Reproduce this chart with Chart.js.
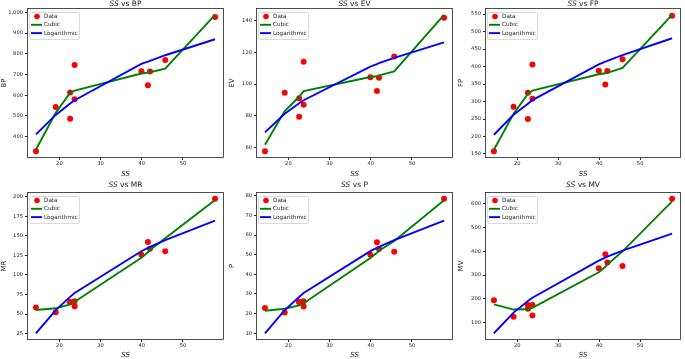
<!DOCTYPE html>
<html>
<head>
<meta charset="utf-8">
<script src="https://cdn.jsdelivr.net/npm/chart.js@4.4.0/dist/chart.umd.min.js"></script>
<style>
  body { margin: 0; background: #fff; }
  #wrap { position: relative; width: 685px; height: 359px; overflow: hidden; background: #fff; }
  #wrap canvas { position: absolute; }
</style>
</head>
<body>
<div id="wrap"></div>
<script>
// SS values of the 11 observations, and the sorted x where the fits are drawn
const ss = [14.3, 19.1, 22.6, 22.6, 23.7, 23.7, 39.9, 41.5, 42.0, 45.7, 57.8];
const fitX = [14.3, 19.1, 22.6, 23.7, 39.9, 41.5, 42.0, 45.7, 57.8];

const bp = [330, 543, 613, 486, 746, 581, 716, 648, 714, 770, 977];
const bpCubic = [338, 515, 612, 622, 705, 709, 711, 728, 988];
const bpLog = [411, 505, 560, 576, 751, 762, 766, 793, 870];

const ev = [57.6, 94.6, 91.0, 79.3, 114.1, 86.9, 104.3, 95.6, 104.0, 117.5, 141.9];
const evCubic = [61.7, 83, 92, 95.6, 104.5, 105, 105.5, 108, 143.8];
const evLog = [69.5, 81.3, 87.9, 89.8, 111.0, 112.7, 113.2, 116.6, 126.4];

const fp = [158, 285, 325, 250, 406, 308, 388, 349, 387, 421, 545];
const fpCubic = [162, 265, 322, 331, 378, 381, 382, 396, 548];
const fpLog = [205, 262, 294, 304, 406, 414, 416, 433, 481];

const mr = [58.2, 52.2, 65.4, 65.0, 66.3, 59.9, 125.9, 142.1, 133.6, 130.2, 197.4];
const mrCubic = [55.2, 57.3, 62.4, 65.8, 122, 129, 132, 147, 195.7];
const mrLog = [25.4, 55.1, 71.9, 76.8, 130.3, 134.6, 135.9, 144.5, 169.3];

const p = [22.9, 20.6, 26.1, 25.8, 26.3, 23.6, 50.0, 56.3, 52.9, 51.5, 78.5];
const pCubic = [21.5, 22.5, 24.2, 25.3, 48.3, 51, 52, 57, 77.7];
const pLog = [10.0, 21.8, 28.5, 30.5, 51.8, 53.5, 54.0, 57.4, 67.3];

const mv = [194, 125, 174, 158, 174, 130, 329, 388, 353, 339, 622];
const mvCubic = [177, 155, 156, 162, 312, 335, 345, 400, 611];
const mvLog = [55, 142, 191, 205, 361, 374, 378, 403, 475];

const xTicks = [20, 30, 40, 50];
const bpTicks = [400, 500, 600, 700, 800, 900, 1000];
const evTicks = [60, 80, 100, 120, 140];
const fpTicks = [150, 200, 250, 300, 350, 400, 450, 500, 550];
const mrTicks = [25, 50, 75, 100, 125, 150, 175, 200];
const pTicks = [10, 20, 30, 40, 50, 60, 70, 80];
const mvTicks = [100, 200, 300, 400, 500, 600];

const panels = [
    { name: "BP", data: bp, cubic: bpCubic, log: bpLog, ticks: bpTicks, col: 0, row: 0 },
    { name: "EV", data: ev, cubic: evCubic, log: evLog, ticks: evTicks, col: 1, row: 0 },
    { name: "FP", data: fp, cubic: fpCubic, log: fpLog, ticks: fpTicks, col: 2, row: 0 },
    { name: "MR", data: mr, cubic: mrCubic, log: mrLog, ticks: mrTicks, col: 0, row: 1 },
    { name: "P", data: p, cubic: pCubic, log: pLog, ticks: pTicks, col: 1, row: 1 },
    { name: "MV", data: mv, cubic: mvCubic, log: mvLog, ticks: mvTicks, col: 2, row: 1 }
];

const cols = [
    { x: 0, w: 228, left: 27, right: 226 },
    { x: 228, w: 229, left: 28, right: 227 },
    { x: 457, w: 228, left: 28, right: 227 }
];
const rows = [
    { y: 0, h: 178, top: 8, bottom: 158, titleY: 4 },
    { y: 178, h: 181, top: 14, bottom: 162, titleY: 7 }
];

const FONT = '"DejaVu Sans", sans-serif';

// matplotlib style autoscale: data limits plus 5% each side
function padRange(values) {
    const lo = Math.min(...values);
    const hi = Math.max(...values);
    const m = (hi - lo) * 0.05;
    return [lo - m, hi + m];
}

// frame on all four sides, title with italic SS, legend in the upper left
const decorPlugin = {
    id: "decor",
    afterDatasetsDraw(chart, args, opts) {
        const ctx = chart.ctx;
        const a = chart.chartArea;
        ctx.save();
        ctx.strokeStyle = "#222";
        ctx.lineWidth = 0.8;
        ctx.strokeRect(Math.round(a.left) + 0.5, Math.round(a.top) + 0.5,
            Math.round(a.right - a.left) - 1, Math.round(a.bottom - a.top) - 1);

        // legend
        const lx = a.left + 2;
        const ly = a.top + 4;
        const w = 50, h = 27;
        ctx.fillStyle = "rgba(255,255,255,0.8)";
        ctx.strokeStyle = "#d0d0d0";
        ctx.lineWidth = 0.8;
        ctx.beginPath();
        ctx.roundRect(lx + 0.5, ly + 0.5, w, h, 1.5);
        ctx.fill();
        ctx.stroke();

        ctx.font = "5.7px " + FONT;
        ctx.textBaseline = "middle";
        ctx.textAlign = "left";
        chart.data.datasets.forEach((ds, i) => {
            const cy = ly + 4.5 + i * 8.3;
            if (ds.showLine) {
                ctx.strokeStyle = ds.borderColor;
                ctx.lineWidth = 1.9;
                ctx.beginPath();
                ctx.moveTo(lx + 2, cy);
                ctx.lineTo(lx + 13, cy);
                ctx.stroke();
            } else {
                ctx.fillStyle = ds.backgroundColor;
                ctx.beginPath();
                ctx.arc(lx + 8, cy, 2.8, 0, Math.PI * 2);
                ctx.fill();
            }
            ctx.fillStyle = "#222";
            ctx.fillText(ds.label, lx + 15, cy);
        });

        // title
        const t1 = "SS";
        const t2 = " vs " + opts.name;
        ctx.fillStyle = "#222";
        ctx.font = "italic 7.5px " + FONT;
        const w1 = ctx.measureText(t1).width;
        ctx.font = "7.5px " + FONT;
        const w2 = ctx.measureText(t2).width;
        const tx = (a.left + a.right) / 2 - (w1 + w2) / 2;
        ctx.font = "italic 7.5px " + FONT;
        ctx.fillText(t1, tx, opts.titleY);
        ctx.font = "7.5px " + FONT;
        ctx.fillText(t2, tx + w1, opts.titleY);
        ctx.restore();
    }
};

const wrap = document.getElementById("wrap");
const xRange = padRange(ss);

panels.forEach(panel => {
    const c = cols[panel.col];
    const r = rows[panel.row];
    const canvas = document.createElement("canvas");
    canvas.width = c.w;
    canvas.height = r.h;
    canvas.style.left = c.x + "px";
    canvas.style.top = r.y + "px";
    canvas.style.width = c.w + "px";
    canvas.style.height = r.h + "px";
    wrap.appendChild(canvas);

    const yRange = padRange(panel.data.concat(panel.cubic, panel.log));

    new Chart(canvas, {
        type: "scatter",
        data: {
            datasets: [
                {
                    label: "Data",
                    data: ss.map((x, i) => ({ x: x, y: panel.data[i] })),
                    backgroundColor: "#ff0000",
                    borderWidth: 0,
                    pointRadius: 3,
                    order: 2
                },
                {
                    label: "Cubic",
                    data: fitX.map((x, i) => ({ x: x, y: panel.cubic[i] })),
                    showLine: true,
                    borderColor: "#008000",
                    borderWidth: 1.9,
                    pointRadius: 0,
                    order: 1
                },
                {
                    label: "Logarithmic",
                    data: fitX.map((x, i) => ({ x: x, y: panel.log[i] })),
                    showLine: true,
                    borderColor: "#0000ff",
                    borderWidth: 1.9,
                    pointRadius: 0,
                    order: 0
                }
            ]
        },
        options: {
            responsive: false,
            animation: false,
            devicePixelRatio: 1,
            layout: {
                padding: { top: r.top, right: c.w - c.right, left: 0, bottom: 0 }
            },
            plugins: {
                legend: { display: false },
                tooltip: { enabled: false },
                decor: { name: panel.name, titleY: r.titleY }
            },
            scales: {
                x: {
                    type: "linear",
                    min: xRange[0],
                    max: xRange[1],
                    afterBuildTicks: scale => { scale.ticks = xTicks.map(v => ({ value: v })); },
                    afterFit: scale => { scale.height = r.h - r.bottom; },
                    border: { display: false },
                    grid: { display: true, drawOnChartArea: false, drawTicks: true, tickLength: 2, color: "#222" },
                    ticks: { color: "#222", padding: 1, maxRotation: 0, font: { family: FONT, size: 5.2 } },
                    title: {
                        display: true,
                        text: "SS",
                        color: "#222",
                        padding: 0,
                        font: { family: FONT, size: 7, style: "italic" }
                    }
                },
                y: {
                    type: "linear",
                    min: yRange[0],
                    max: yRange[1],
                    afterBuildTicks: scale => { scale.ticks = panel.ticks.map(v => ({ value: v })); },
                    afterFit: scale => { scale.width = c.left; },
                    border: { display: false },
                    grid: { display: true, drawOnChartArea: false, drawTicks: true, tickLength: 2, color: "#222" },
                    ticks: { color: "#222", padding: 2, font: { family: FONT, size: 5.2 } },
                    title: {
                        display: true,
                        text: panel.name,
                        color: "#222",
                        padding: 0,
                        font: { family: FONT, size: 7 }
                    }
                }
            }
        },
        plugins: [decorPlugin]
    });
});
</script>
</body>
</html>
